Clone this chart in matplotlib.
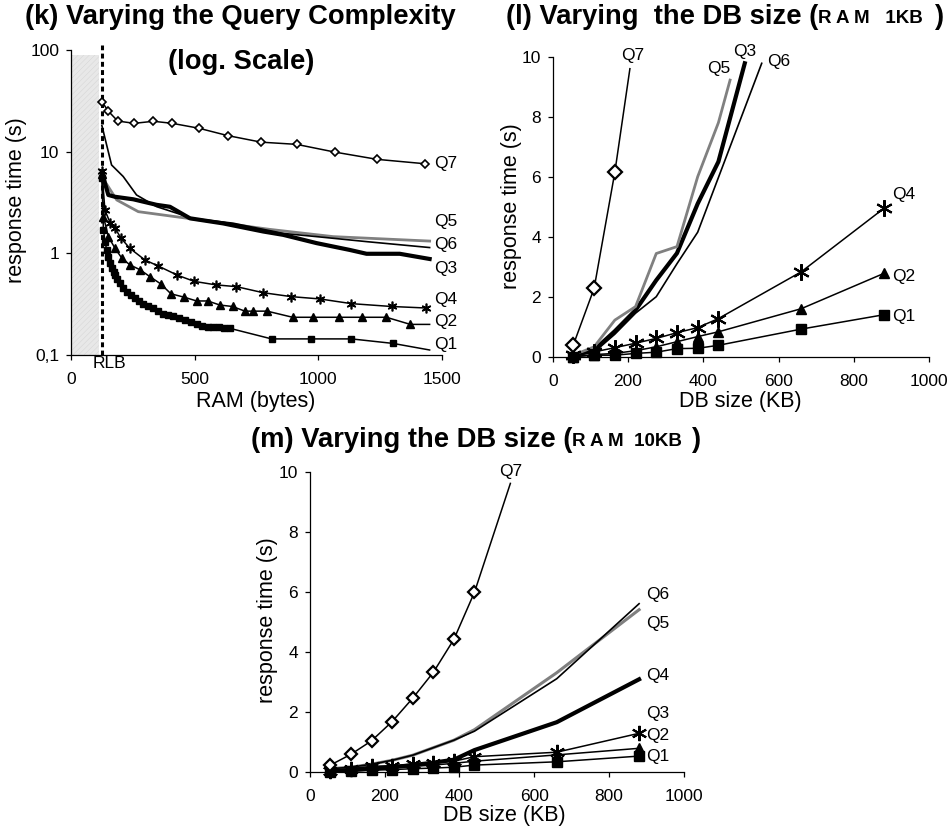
import matplotlib
matplotlib.use("Agg")
import matplotlib.pyplot as plt
import numpy as np
from matplotlib.ticker import FixedLocator, FixedFormatter

plt.rcParams['font.family'] = ['Liberation Sans', 'DejaVu Sans']
plt.rcParams['hatch.linewidth'] = 0.3

# (k) response time vs RAM, log scale
ram_q7 = [125, 151, 189, 256, 333, 409, 517, 633, 769, 912, 1067, 1238, 1433]
k_q7 = [31, 25, 20, 19, 19.9, 19, 17, 14.4, 12.4, 11.8, 9.9, 8.4, 7.6]
ram_q6 = [125, 164, 211, 265, 346, 494, 655, 858, 993, 1200, 1450]
k_q6 = [18, 7.4, 5.7, 3.75, 2.88, 2.2, 1.98, 1.57, 1.46, 1.3, 1.14]
ram_q5 = [125, 137, 185, 272, 804, 1060, 1450]
k_q5 = [6.5, 5.1, 3.35, 2.57, 1.72, 1.46, 1.32]
ram_q3 = [125, 151, 178, 252, 346, 400, 481, 615, 777, 858, 993, 1127, 1195, 1329, 1450]
k_q3 = [6.2, 3.75, 3.6, 3.4, 3.0, 2.87, 2.21, 1.97, 1.64, 1.52, 1.26, 1.08, 0.99, 0.99, 0.88]
ram_q4 = [125, 137, 158, 178, 202, 238, 299, 353, 430, 498, 585, 669, 777, 891, 1006, 1134, 1296, 1435]
k_q4 = [6.5, 2.67, 2.0, 1.77, 1.41, 1.12, 0.86, 0.75, 0.61, 0.53, 0.49, 0.47, 0.41, 0.375,
        0.356, 0.32, 0.30, 0.29]
ram_q2 = [125, 131, 151, 178, 205, 238, 279, 319, 363, 404, 458, 508, 553, 602, 653, 703,
          736, 793, 896, 980, 1084, 1178, 1275, 1372, 1450]
k_q2 = [6.0, 2.3, 1.46, 1.12, 0.90, 0.77, 0.69, 0.59, 0.50, 0.40, 0.37, 0.34, 0.34, 0.31,
        0.30, 0.27, 0.27, 0.27, 0.235, 0.235, 0.235, 0.235, 0.235, 0.20, 0.20]
ram_q1 = [125, 131, 138, 144, 151, 158, 165, 172, 178, 188, 198, 211, 225, 242, 259, 275,
          292, 312, 333, 353, 373, 393, 413, 437, 461, 484, 508, 530, 552, 575, 597, 620,
          642, 811, 972, 1134, 1302, 1450]
k_q1 = [5.5, 1.7, 1.3, 1.08, 0.92, 0.80, 0.72, 0.66, 0.61, 0.56, 0.51, 0.46, 0.42, 0.39,
        0.36, 0.34, 0.32, 0.30, 0.29, 0.27, 0.255, 0.245, 0.24, 0.23, 0.22, 0.21, 0.20,
        0.195, 0.19, 0.19, 0.188, 0.185, 0.183, 0.144, 0.144, 0.144, 0.13, 0.112]
rlb = 125

# (l) and (m) response time vs DB size
db = [55, 110, 165, 220, 275, 330, 385, 440, 660, 880]

l_db_q7 = [55, 110, 165, 205]
l_q7 = [0.4, 2.28, 6.15, 9.6]
l_db_q5 = [55, 110, 165, 220, 275, 330, 385, 440, 471]
l_q5 = [0.05, 0.33, 1.22, 1.67, 3.44, 3.67, 6.0, 7.8, 9.22]
l_db_q3 = [55, 110, 165, 220, 275, 330, 385, 440, 510]
l_q3 = [0.05, 0.22, 0.85, 1.55, 2.55, 3.45, 5.1, 6.5, 9.78]
l_db_q6 = [55, 110, 165, 220, 275, 330, 385, 555]
l_q6 = [0.03, 0.15, 0.75, 1.45, 2.0, 3.1, 4.15, 9.78]
l_q4 = [0.05, 0.16, 0.3, 0.45, 0.61, 0.8, 0.97, 1.27, 2.83, 4.95]
l_q2 = [0.0, 0.07, 0.11, 0.2, 0.33, 0.5, 0.67, 0.83, 1.6, 2.78]
l_q1 = [0.0, 0.05, 0.05, 0.11, 0.15, 0.27, 0.28, 0.38, 0.92, 1.4]

m_db_q7 = [55, 110, 165, 220, 275, 330, 385, 440, 536]
m_q7 = [0.22, 0.58, 1.03, 1.67, 2.45, 3.31, 4.41, 5.98, 9.61]
m_q6 = [0.1, 0.15, 0.25, 0.38, 0.55, 0.8, 1.05, 1.35, 3.1, 5.6]
m_q5 = [0.1, 0.15, 0.25, 0.38, 0.55, 0.8, 1.05, 1.4, 3.3, 5.4]
m_q3 = [0.02, 0.05, 0.1, 0.15, 0.22, 0.3, 0.4, 0.72, 1.65, 3.08]
m_q4 = [0.03, 0.1, 0.18, 0.2, 0.25, 0.3, 0.35, 0.5, 0.65, 1.28]
m_q2 = [0.02, 0.05, 0.1, 0.13, 0.18, 0.22, 0.28, 0.35, 0.56, 0.78]
m_q1 = [0.0, 0.03, 0.05, 0.07, 0.1, 0.12, 0.15, 0.22, 0.33, 0.52]

# series labels at the line ends: (text, x, y)
k_labels = [('Q7', 1470, 7.7), ('Q5', 1470, 2.05), ('Q6', 1470, 1.21), ('Q3', 1470, 0.71),
            ('Q4', 1470, 0.348), ('Q2', 1470, 0.213), ('Q1', 1470, 0.126)]
l_labels = [('Q7', 212, 10.05), ('Q5', 440, 9.61), ('Q3', 510, 10.17), ('Q6', 599, 9.83),
            ('Q4', 933, 5.39), ('Q2', 933, 2.67), ('Q1', 933, 1.33)]
m_labels = [('Q7', 536, 10.0), ('Q6', 900, 5.9), ('Q5', 900, 4.95), ('Q4', 900, 3.22),
            ('Q3', 900, 1.95), ('Q2', 900, 1.22), ('Q1', 900, 0.5)]

W, H = 953, 832
STAR = (6, 2, 0)   # excel style asterisk
GRAY = '#808080'
TITLE_FS = 19.7


def px(x, y):
    # pixel position (from top-left) -> figure fraction
    return x / W, 1 - y / H


def style_axes(ax):
    for s in ['top', 'right']:
        ax.spines[s].set_visible(False)
    for s in ['left', 'bottom']:
        ax.spines[s].set_linewidth(0.9)
    ax.tick_params(direction='out', length=3.5, width=0.9, labelsize=12.5)
    ax.tick_params(axis='x', pad=9)
    ax.tick_params(axis='y', pad=5)


def marker_line(ax, x, y, marker, ms, mew=1.0, mfc='black', skip_last=False, lw=1.1):
    every = list(range(len(x) - 1)) if skip_last else None
    ax.plot(x, y, color='black', lw=lw, marker=marker, ms=ms, mfc=mfc, mec='black',
            mew=mew, markevery=every, clip_on=False, zorder=3)


def split_title(ax, xy, main, small, gap):
    # bold title with a smaller spaced-out part and a closing bracket
    t1 = fig.text(*px(*xy), main, fontsize=TITLE_FS, fontweight='bold',
                  ha='left', va='center')
    t2 = ax.annotate(small, xy=(1, 0.12), xycoords=t1, fontsize=13.5,
                     fontweight='bold', ha='left', va='bottom')
    ax.annotate(')', xy=(1, 0), xycoords=(t2, t1), xytext=(gap, 0),
                textcoords='offset points', fontsize=TITLE_FS, fontweight='bold',
                ha='left', va='bottom')


fig = plt.figure(figsize=(W / 100, H / 100), dpi=100)

# ---------------- (k) ----------------
ax = fig.add_axes([71 / W, 1 - 355 / H, (442 - 71) / W, 305 / H])
style_axes(ax)
ax.set_yscale('log')
ax.set_xlim(0, 1500)
ax.set_ylim(0.1, 100)
ax.fill_between([0, 115], 0.1, 90, facecolor='#e8e8e8', edgecolor='#d2d2d2',
                hatch='//////', linewidth=0, zorder=0)
ax.plot([rlb, rlb], [0.1, 112], color='black', lw=2.2, ls=(0, (1.6, 1.1)),
        clip_on=False, zorder=2)

ax.plot(ram_q5, k_q5, color=GRAY, lw=2.0, clip_on=False, zorder=2)
ax.plot(ram_q6, k_q6, color='black', lw=1.2, clip_on=False, zorder=2)
ax.plot(ram_q3, k_q3, color='black', lw=3.0, clip_on=False, zorder=2)
marker_line(ax, ram_q1, k_q1, 's', 4.5, skip_last=True)
marker_line(ax, ram_q2, k_q2, '^', 5.5, skip_last=True)
marker_line(ax, ram_q4, k_q4, STAR, 7, mew=1.2)
marker_line(ax, ram_q7, k_q7, 'D', 4.2, mew=1.2, mfc='white')

ax.yaxis.set_major_locator(FixedLocator([0.1, 1, 10, 100]))
ax.yaxis.set_major_formatter(FixedFormatter(['0,1', '1', '10', '100']))
ax.yaxis.set_minor_locator(FixedLocator([]))
ax.set_xticks([0, 500, 1000, 1500])
for t, x, y in k_labels:
    ax.text(x, y, t, fontsize=12.5, ha='left', va='center', clip_on=False)

fig.text(*px(240, 17), '(k) Varying the Query Complexity', fontsize=TITLE_FS,
         fontweight='bold', ha='center', va='center')
fig.text(*px(241, 62), '(log. Scale)', fontsize=TITLE_FS, fontweight='bold',
         ha='center', va='center')
fig.text(*px(109, 364), 'RLB', fontsize=12.5, ha='center', va='center')
fig.text(*px(256, 401), 'RAM (bytes)', fontsize=15.5, ha='center', va='center')
fig.text(*px(17, 200), 'response time (s)', fontsize=15.5, ha='center', va='center',
         rotation=90)

# ---------------- (l) ----------------
ax = fig.add_axes([552.7 / W, 1 - 356.7 / H, (929.3 - 552.7) / W, 300 / H])
style_axes(ax)
ax.set_xlim(0, 1000)
ax.set_ylim(0, 10)
ax.set_xticks(np.arange(0, 1001, 200))
ax.set_yticks(np.arange(0, 11, 2))

ax.plot(l_db_q6, l_q6, color='black', lw=1.2, clip_on=False, zorder=2)
ax.plot(l_db_q3, l_q3, color='black', lw=3.0, clip_on=False, zorder=2)
ax.plot(l_db_q5, l_q5, color=GRAY, lw=2.0, clip_on=False, zorder=2)
marker_line(ax, db, l_q1, 's', 7)
marker_line(ax, db, l_q2, '^', 7)
marker_line(ax, db, l_q4, STAR, 12, mew=1.5)
marker_line(ax, l_db_q7, l_q7, 'D', 7, mew=1.6, mfc='white', skip_last=True)
for t, x, y in l_labels:
    ax.text(x, y, t, fontsize=12.5, ha='center', va='center', clip_on=False)

split_title(ax, (506, 17), '(l) Varying  the DB size (', 'R A M   1KB', 8)
fig.text(*px(740, 401), 'DB size (KB)', fontsize=15.5, ha='center', va='center')
fig.text(*px(512, 206), 'response time (s)', fontsize=15.5, ha='center', va='center',
         rotation=90)

# ---------------- (m) ----------------
ax = fig.add_axes([309.8 / W, 1 - 771.7 / H, (684 - 309.8) / W, 300 / H])
style_axes(ax)
ax.set_xlim(0, 1000)
ax.set_ylim(0, 10)
ax.set_xticks(np.arange(0, 1001, 200))
ax.set_yticks(np.arange(0, 11, 2))

ax.plot(db, m_q5, color=GRAY, lw=2.2, clip_on=False, zorder=2)
ax.plot(db, m_q6, color='black', lw=1.2, clip_on=False, zorder=2)
ax.plot(db, m_q3, color='black', lw=3.0, clip_on=False, zorder=2)
marker_line(ax, db, m_q1, 's', 7)
marker_line(ax, db, m_q2, '^', 7)
marker_line(ax, db, m_q4, STAR, 11, mew=1.5)
marker_line(ax, m_db_q7, m_q7, 'D', 6.6, mew=1.6, mfc='white', skip_last=True)
for t, x, y in m_labels:
    ax.text(x, y, t, fontsize=12.5, ha='left' if t != 'Q7' else 'center',
            va='center', clip_on=False)

split_title(ax, (251, 440), '(m) Varying the DB size (', 'R A M  10KB', 6)
fig.text(*px(504, 816), 'DB size (KB)', fontsize=15.5, ha='center', va='center')
fig.text(*px(268, 620), 'response time (s)', fontsize=15.5, ha='center', va='center',
         rotation=90)

fig.savefig('out.png', dpi=100)
